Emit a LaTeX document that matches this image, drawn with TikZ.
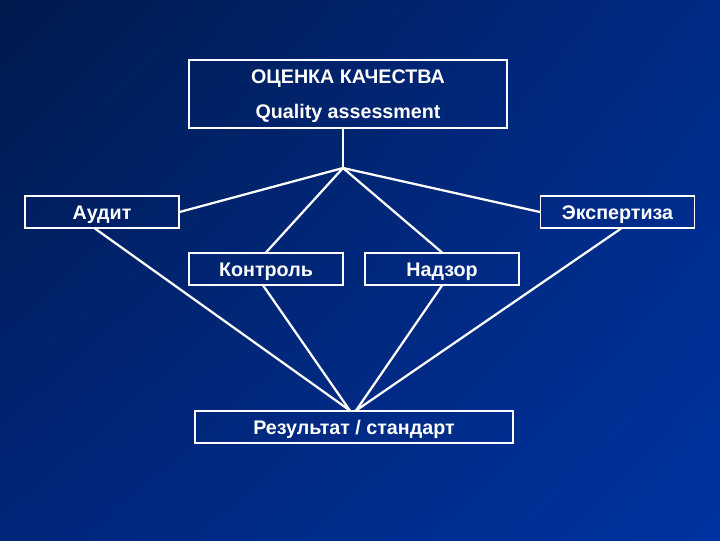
\documentclass[tikz,border=0pt]{standalone}
\usepackage{fontspec}
\setmainfont{Liberation Sans}
\usepackage{tikz}
\usetikzlibrary{shadings}
\definecolor{bgUL}{RGB}{0,26,77}
\definecolor{bgUR}{RGB}{0,42,133}
\definecolor{bgLL}{RGB}{0,38,122}
\definecolor{bgLR}{RGB}{0,51,160}

\begin{document}
\begin{tikzpicture}[x=0.025cm, y=-0.025cm,
        every node/.style={draw=white, line width=0.8pt, text=white, font=\bfseries\fontsize{14}{17}\selectfont, inner sep=0pt, text depth=0pt},
        cell/.style={minimum width=3.85cm, minimum height=0.8cm, text height=10pt},
        link/.style={draw=white, line width=1.6pt}]
        \shade[upper left=bgUL, upper right=bgUR, lower left=bgLL, lower right=bgLR] (0,0) rectangle (720,540);
        \useasboundingbox (0,0) rectangle (720,540);

        \node[minimum width=7.95cm, minimum height=1.7cm, align=center] (Q) at (348, 94) {ОЦЕНКА КАЧЕСТВА\\[8pt]Quality assessment};
        \node[cell] (A) at (102, 212) {Аудит};
        \node[cell] (E) at (617.5, 212) {Экспертиза};
        \node[cell] (K) at (266, 269) {Контроль};
        \node[cell] (N) at (442, 269) {Надзор};
        \node[cell, minimum width=7.95cm] (R) at (354, 427) {Результат / стандарт};
        \coordinate (H) at (343, 168);

        \draw[link] (H |- Q.south) -- (H);
        \draw[link] (H) -- (A.east);
        \draw[link] (H) -- (E.west);
        \draw[link] (H) -- (K.north);
        \draw[link] (H) -- (N.north);
        \draw[link] ([xshift=-5pt]A.south) -- ([xshift=-3pt]R.north);
        \draw[link] ([xshift=-2pt]K.south) -- ([xshift=-3pt]R.north);
        \draw[link] (N.south) -- ([xshift=1.5pt]R.north);
        \draw[link] ([xshift=2.5pt]E.south) -- ([xshift=1.5pt]R.north);
    \end{tikzpicture}
\end{document}
